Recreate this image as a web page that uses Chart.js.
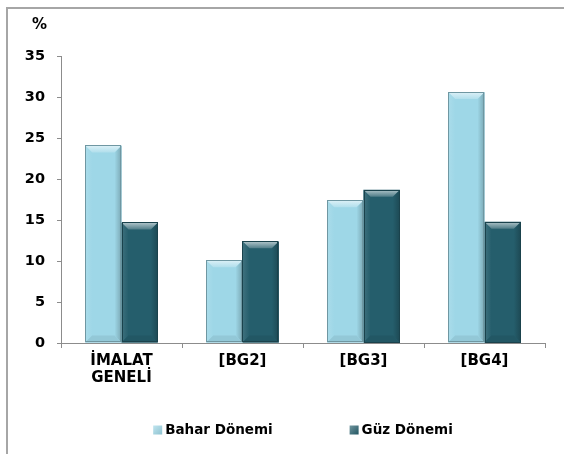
<!DOCTYPE html>
<html>
<head>
<meta charset="utf-8">
<script src="https://cdn.jsdelivr.net/npm/chart.js@4.4.1/dist/chart.umd.min.js"></script>
<style>
html,body{margin:0;padding:0;background:#fff;}
#wrap{width:564px;height:454px;position:relative;}
</style>
</head>
<body>
<div id="wrap"><canvas id="c" width="564" height="454"></canvas></div>
<script>
const categories = [['İMALAT','GENELİ'], '[BG2]', '[BG3]', '[BG4]'];
const seriesNames = ['Bahar Dönemi', 'Güz Dönemi'];
const baharValues = [24.1, 10.1, 17.4, 30.6];
const guzValues = [14.7, 12.4, 18.7, 14.8];
const yTicks = [0, 5, 10, 15, 20, 25, 30, 35];
const unitLabel = '%';

const FONT = '"DejaVu Sans", Verdana, sans-serif';
const lightMain = '#9ed7e7';
const darkMain = '#255e6c';

function shade(hex, amt) {
  const n = parseInt(hex.slice(1), 16);
  let r = (n >> 16) & 255, g = (n >> 8) & 255, b = n & 255;
  const f = v => Math.max(0, Math.min(255, Math.round(amt >= 0 ? v + (255 - v) * amt : v * (1 + amt))));
  return `rgb(${f(r)},${f(g)},${f(b)})`;
}

const framePlugin = {
  id: 'frame',
  beforeDraw(chart) {
    const ctx = chart.ctx;
    ctx.save();
    ctx.fillStyle = '#fff';
    ctx.fillRect(0, 0, chart.width, chart.height);
    ctx.strokeStyle = '#a6a6a6';
    ctx.lineWidth = 2;
    ctx.beginPath();
    ctx.moveTo(chart.width, 8);
    ctx.lineTo(7, 8);
    ctx.lineTo(7, chart.height);
    ctx.stroke();
    ctx.restore();
  },
  afterDraw(chart) {
    const ctx = chart.ctx;
    const ys = chart.scales.y;
    const area = chart.chartArea;
    ctx.save();
    ctx.font = 'bold 15px ' + FONT;
    ctx.fillStyle = '#000';
    ctx.textAlign = 'right';
    ctx.textBaseline = 'middle';
    ctx.fillText(unitLabel, ys.right - 14, 25);
    ctx.font = 'bold 13.5px ' + FONT;
    ctx.textAlign = 'left';
    const box = 9, gapBox = 3, gapItems = 77;
    const items = chart.data.datasets.map(ds => ({
      text: ds.label, color: ds.backgroundColor, w: ctx.measureText(ds.label).width
    }));
    const total = items.reduce((s, it) => s + box + gapBox + it.w, 0) + gapItems * (items.length - 1);
    let x = (area.left + area.right) / 2 - total / 2;
    const cy = 430;
    items.forEach(it => {
      const g = ctx.createLinearGradient(x, cy - box / 2, x + box, cy + box / 2);
      g.addColorStop(0, shade(it.color, 0.35));
      g.addColorStop(1, shade(it.color, -0.1));
      ctx.fillStyle = g;
      ctx.fillRect(x, cy - box / 2, box, box);
      ctx.fillStyle = '#000';
      ctx.fillText(it.text, x + box + gapBox, cy + 0.5);
      x += box + gapBox + it.w + gapItems;
    });
    ctx.restore();
  }
};

const bevelPlugin = {
  id: 'bevel',
  afterDatasetsDraw(chart) {
    const ctx = chart.ctx;
    chart.data.datasets.forEach((ds, di) => {
      const meta = chart.getDatasetMeta(di);
      const base = ds.backgroundColor;
      meta.data.forEach(bar => {
        const w = bar.width;
        const l = bar.x - w / 2, r = bar.x + w / 2;
        const t = bar.y, b = bar.base;
        const bv = 7;
        ctx.save();
        let g = ctx.createLinearGradient(l, 0, l + bv, 0);
        g.addColorStop(0, shade(base, 0.12));
        g.addColorStop(1, shade(base, 0.0));
        ctx.fillStyle = g;
        ctx.beginPath();
        ctx.moveTo(l, t); ctx.lineTo(l + bv, t + bv); ctx.lineTo(l + bv, b - bv); ctx.lineTo(l, b); ctx.closePath();
        ctx.fill();
        g = ctx.createLinearGradient(r - bv, 0, r, 0);
        g.addColorStop(0, shade(base, 0.0));
        g.addColorStop(1, shade(base, -0.22));
        ctx.fillStyle = g;
        ctx.beginPath();
        ctx.moveTo(r, t); ctx.lineTo(r - bv, t + bv); ctx.lineTo(r - bv, b - bv); ctx.lineTo(r, b); ctx.closePath();
        ctx.fill();
        g = ctx.createLinearGradient(0, t, 0, t + bv);
        g.addColorStop(0, shade(base, 0.65));
        g.addColorStop(1, shade(base, 0.2));
        ctx.fillStyle = g;
        ctx.beginPath();
        ctx.moveTo(l, t); ctx.lineTo(r, t); ctx.lineTo(r - bv, t + bv); ctx.lineTo(l + bv, t + bv); ctx.closePath();
        ctx.fill();
        ctx.fillStyle = shade(base, -0.07);
        ctx.beginPath();
        ctx.moveTo(l, b); ctx.lineTo(r, b); ctx.lineTo(r - bv, b - bv); ctx.lineTo(l + bv, b - bv); ctx.closePath();
        ctx.fill();
        ctx.strokeStyle = shade(base, -0.3);
        ctx.lineWidth = 1;
        ctx.strokeRect(Math.round(l) + 0.5, Math.round(t) + 0.5, Math.round(w) - 1, Math.round(b - t) - 1);
        ctx.restore();
      });
    });
  }
};

new Chart(document.getElementById('c'), {
  type: 'bar',
  data: {
    labels: categories,
    datasets: [
      { label: seriesNames[0], data: baharValues, backgroundColor: lightMain, borderWidth: 0 },
      { label: seriesNames[1], data: guzValues, backgroundColor: darkMain, borderWidth: 0 }
    ]
  },
  options: {
    responsive: false,
    animation: false,
    devicePixelRatio: 1,
    layout: { padding: { left: 0, right: 19, top: 56, bottom: 0 } },
    categoryPercentage: 0.6,
    barPercentage: 1.0,
    plugins: {
      tooltip: { enabled: false },
      legend: { display: false }
    },
    scales: {
      x: {
        afterFit(s) { s.height = 111; },
        grid: { display: true, drawOnChartArea: false, offset: true, tickLength: 5, color: '#8c8c8c' },
        border: { display: true, color: '#8c8c8c', width: 1 },
        ticks: {
          color: '#000',
          padding: 4,
          maxRotation: 0,
          autoSkip: false,
          font: { family: FONT, size: 15, weight: 'bold', lineHeight: 1.15 }
        }
      },
      y: {
        min: 0,
        max: 35,
        afterFit(s) { s.width = 61; },
        afterBuildTicks(s) { s.ticks = yTicks.map(v => ({ value: v })); },
        grid: { display: true, drawOnChartArea: false, tickLength: 4, color: '#8c8c8c' },
        border: { display: true, color: '#8c8c8c', width: 1 },
        ticks: {
          color: '#000',
          padding: 12,
          font: { family: FONT, size: 14.5, weight: 'bold' }
        }
      }
    }
  },
  plugins: [framePlugin, bevelPlugin]
});
</script>
</body>
</html>
